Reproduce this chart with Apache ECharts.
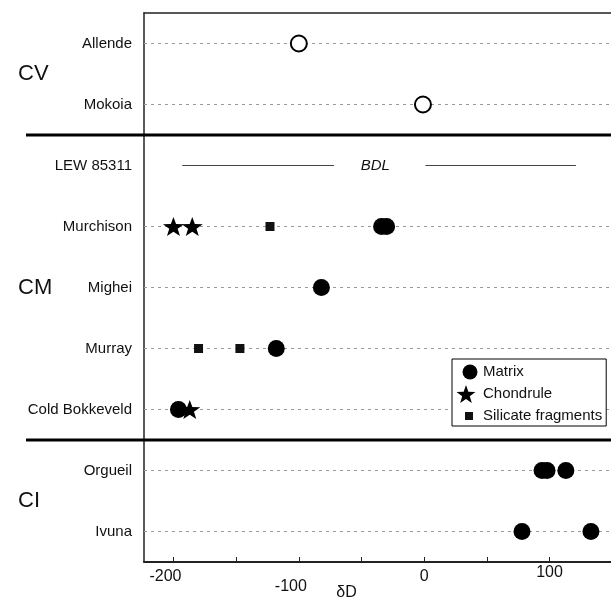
<!DOCTYPE html>
<html><head><meta charset="utf-8">
<script src="https://cdn.jsdelivr.net/npm/echarts@6/dist/echarts.min.js"></script>
<style>html,body{margin:0;padding:0;background:#fff}#c{width:611px;height:605px}</style>
</head><body><div id="c"></div>
<script>
// ---- data ----
const meteorites = ['Allende','Mokoia','LEW 85311','Murchison','Mighei','Murray','Cold Bokkeveld','Orgueil','Ivuna'];
const cvBulk = [[-100,'Allende'],[-1,'Mokoia']];
const matrix = [[-34,'Murchison'],[-30,'Murchison'],[-82,'Mighei'],[-118,'Murray'],[-196,'Cold Bokkeveld'],
                [94,'Orgueil'],[98,'Orgueil'],[113,'Orgueil'],[78,'Ivuna'],[133,'Ivuna']];
const chondrule = [[-200,'Murchison'],[-185,'Murchison'],[-187,'Cold Bokkeveld']];
const silicate = [[-123,'Murchison'],[-180,'Murray'],[-147,'Murray']];
const bdlRow = 'LEW 85311';
const bdlSegments = [[-193,-72],[1,121]];
const bdlText = 'BDL';
const bdlTextX = -39;
const xTickValues = [-200,-150,-100,-50,0,50,100];
const xLabelValues = [-200,-100,0,100];
const groupLabels = [['CV','Allende','Mokoia'],['CM','Mighei','Mighei'],['CI','Orgueil','Ivuna']];
const separators = [['Mokoia','LEW 85311'],['Cold Bokkeveld','Orgueil']];

// ---- chart ----
const FONT = "'Liberation Sans', Arial, Helvetica, sans-serif";
const starPath = 'M10,0L12.35,6.76L19.51,6.91L13.8,11.24L15.88,18.09L10,14L4.12,18.09L6.2,11.24L0.49,6.91L7.65,6.76Z';
const chart = echarts.init(document.getElementById('c'), null, {renderer:'canvas'});

const dashedRows = meteorites.filter(m => m !== bdlRow).map(m => ({yAxis: m}));
const bdlLines = bdlSegments.map(s => [{coord:[s[0], bdlRow]}, {coord:[s[1], bdlRow]}]);

const option = {
  animation: false,
  backgroundColor: '#fff',
  textStyle: {fontFamily: FONT},
  grid: {left: 144, right: 0, top: 13, bottom: 43, containLabel: false, outerBoundsMode: 'none'},
  legend: {
    orient: 'vertical', left: 452, top: 359,
    padding: [4, 4, 1, 4], itemGap: 4, itemWidth: 22, itemHeight: 18,
    borderColor: '#000', borderWidth: 1, backgroundColor: '#fff',
    textStyle: {fontFamily: FONT, fontSize: 15, color: '#111'},
    data: [
      {name: 'Matrix', icon: 'path://M0,0M22,18M6.5,9a7.5,7.5 0 1,0 15,0a7.5,7.5 0 1,0 -15,0Z'},
      {name: 'Chondrule', icon: 'path://M0,0M22,18' + starPath},
      {name: 'Silicate fragments', icon: 'path://M0,0M22,18M9,5h8v8h-8Z'}
    ]
  },
  xAxis: [{
    type: 'value', min: -223.5, max: 149,
    name: 'δD', nameLocation: 'middle', nameGap: 23, nameMoveOverlap: false,
    nameTextStyle: {fontFamily: FONT, fontSize: 16, color: '#111', padding: [0, 62, 0, 0]},
    axisLine: {show: true, onZero: false, lineStyle: {color: '#222', width: 2}},
    axisTick: {show: true, inside: true, length: 5, customValues: xTickValues, lineStyle: {color: '#222', width: 1}},
    axisLabel: {
      customValues: xLabelValues, margin: 7, color: '#111', fontFamily: FONT, fontSize: 16,
      formatter: v => v === -100 ? '{lo|' + v + '}' : (v < 0 ? '{n|' + v + '}' : (v === 0 ? '{z|0}' : '{p|' + v + '}')),
      rich: {
        n: {fontFamily: FONT, fontSize: 16, color: '#111', padding: [0, 16, 0, 0]},
        lo: {fontFamily: FONT, fontSize: 16, color: '#111', padding: [10, 16, 0, 0]},
        z: {fontFamily: FONT, fontSize: 16, color: '#111', padding: [0, 0, 0, 0]},
        p: {fontFamily: FONT, fontSize: 16, color: '#111', padding: [-4, 0, 0, 0]}
      }
    },
    splitLine: {show: false}
  }, {
    type: 'value', position: 'top', min: -223.5, max: 149,
    axisLine: {show: true, onZero: false, lineStyle: {color: '#222', width: 1.5}},
    axisTick: {show: false}, axisLabel: {show: false}, splitLine: {show: false}
  }],
  yAxis: {
    type: 'category', inverse: true, data: meteorites,
    axisLine: {show: true, onZero: false, lineStyle: {color: '#222', width: 1.5}},
    axisTick: {show: false},
    axisLabel: {margin: 12, color: '#111', fontFamily: FONT, fontSize: 15},
    splitLine: {show: false}
  },
  series: [
    {
      name: 'CV bulk', type: 'scatter', data: cvBulk, symbol: 'circle', symbolSize: 16, z: 5,
      itemStyle: {color: '#fff', borderColor: '#000', borderWidth: 2, opacity: 1},
      markLine: {
        silent: true, symbol: ['none','none'], label: {show: false}, z: 1,
        lineStyle: {color: '#999', type: [3, 4], width: 1},
        data: dashedRows
      }
    },
    {
      name: 'BDL', type: 'scatter', data: [],
      markLine: {
        silent: true, symbol: ['none','none'], label: {show: false},
        lineStyle: {color: '#444', type: 'solid', width: 1},
        data: bdlLines
      }
    },
    {
      name: 'Chondrule', type: 'scatter', data: chondrule, symbol: 'path://' + starPath,
      symbolSize: [21, 20], symbolKeepAspect: true, z: 4,
      itemStyle: {color: '#000', opacity: 1}
    },
    {
      name: 'Matrix', type: 'scatter', data: matrix, symbol: 'circle', symbolSize: 17, z: 6,
      itemStyle: {color: '#000', opacity: 1}
    },
    {
      name: 'Silicate fragments', type: 'scatter', data: silicate, symbol: 'rect', symbolSize: 9, z: 4,
      itemStyle: {color: '#111', opacity: 1}
    }
  ]
};
chart.setOption(option);

// ---- annotations placed through the axis scales ----
const yPix = n => chart.convertToPixel({yAxisIndex: 0}, n);
const xPix = v => chart.convertToPixel({xAxisIndex: 0}, v);
const graphics = [];
separators.forEach(([a, b]) => {
  const y = (yPix(a) + yPix(b)) / 2;
  graphics.push({type: 'line', shape: {x1: 26, y1: y, x2: 611, y2: y}, style: {stroke: '#000', lineWidth: 3}, z: 10});
});
groupLabels.forEach(([txt, a, b]) => {
  const y = (yPix(a) + yPix(b)) / 2;
  graphics.push({type: 'text', x: 18, y: y, style: {text: txt, font: '22px ' + FONT, fill: '#111', verticalAlign: 'middle'}});
});
graphics.push({type: 'text', x: xPix(bdlTextX), y: yPix(bdlRow), style: {text: bdlText, font: 'italic 15px ' + FONT, fill: '#111', align: 'center', verticalAlign: 'middle'}});
chart.setOption({graphic: graphics});
</script>
</body></html>
